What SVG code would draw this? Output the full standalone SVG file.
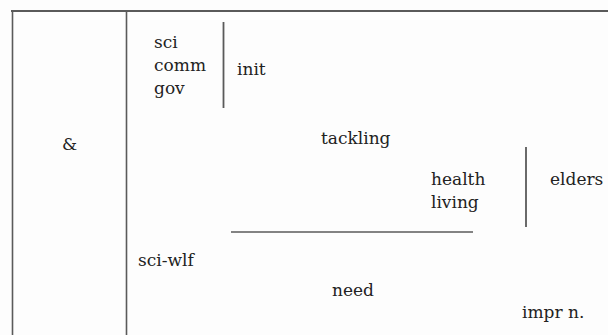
<svg xmlns="http://www.w3.org/2000/svg" width="608" height="335" viewBox="0 0 608 335">
<style>
.ln{stroke:#5a5a5a;fill:none}
</style>
<rect width="608" height="335" fill="#fdfdfd"/>
<g id="frame">
<line class="ln" x1="11" y1="11" x2="608" y2="11" stroke-width="2"/>
<line class="ln" x1="12.5" y1="10" x2="12.5" y2="335" stroke-width="1.6"/>
<line class="ln" x1="126.5" y1="10" x2="126.5" y2="335" stroke-width="1.6"/>
</g>
<g id="connectors">
<line class="ln" x1="223.5" y1="22" x2="223.5" y2="108" stroke-width="1.8"/>
<line class="ln" x1="526" y1="147" x2="526" y2="227" stroke-width="1.8"/>
<line class="ln" x1="231" y1="232" x2="473" y2="232" stroke-width="1.6"/>
</g>
<g font-family="'DejaVu Serif', serif" font-size="17" fill="#222">
<g id="amp"><text x="62" y="150">&amp;</text></g>
<g id="group1"><text x="154" y="48">sci</text><text x="154" y="71">comm</text><text x="154" y="94">gov</text></g>
<g id="init"><text x="237" y="75">init</text></g>
<g id="tackling"><text x="321" y="144">tackling</text></g>
<g id="health"><text x="431" y="185">health</text><text x="431" y="208">living</text></g>
<g id="elders"><text x="550" y="185">elders</text></g>
<g id="sciwlf"><text x="138" y="266">sci-wlf</text></g>
<g id="need"><text x="332" y="296">need</text></g>
<g id="impr"><text x="522" y="318">impr n.</text></g>
</g>
</svg>
